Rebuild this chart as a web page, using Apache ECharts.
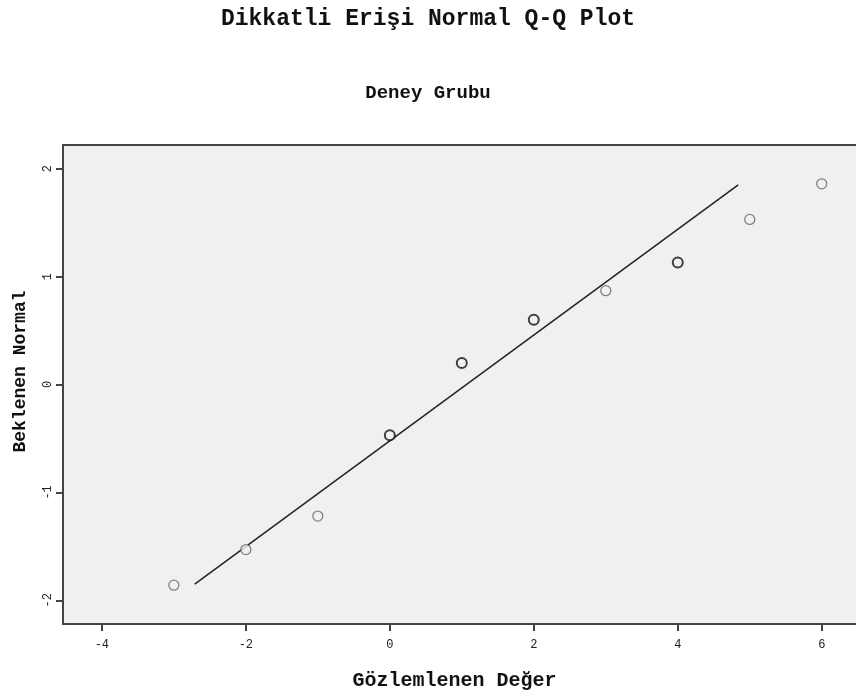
<!DOCTYPE html>
<html>
<head>
<meta charset="utf-8">
<script src="https://cdn.jsdelivr.net/npm/echarts@6/dist/echarts.min.js"></script>
<style>
html,body{margin:0;padding:0;background:#fff;}
#c{width:856px;height:696px;}
</style>
</head>
<body>
<div id="c"></div>
<script>
var titleText = "Dikkatli Erişi Normal Q-Q Plot";
var subtitleText = "Deney Grubu";
var xName = "Gözlemlenen Değer";
var yName = "Beklenen Normal";

var observed = [-3, -2, -1, 0, 1, 2, 3, 4, 5, 6];
var expected = [-1.86, -1.53, -1.22, -0.47, 0.20, 0.60, 0.87, 1.13, 1.53, 1.86];
var ties = [1, 1, 1, 2, 2, 2, 1, 2, 1, 1];

var lineX = [-2.71, 4.84];
var lineY = [-1.85, 1.85];

var xTicks = [-4, -2, 0, 2, 4, 6];
var yTicks = [-2, -1, 0, 1, 2];

var pts = observed.map(function (x, i) {
  var multi = ties[i] > 1;
  return {
    value: [x, expected[i]],
    itemStyle: { color: '#f0f0f0', borderColor: multi ? '#111' : '#666', borderWidth: multi ? 2 : 1.3 }
  };
});
var lineData = lineX.map(function (x, i) { return [x, lineY[i]]; });

var mono = '"Liberation Mono", "DejaVu Sans Mono", monospace';
var chart = echarts.init(document.getElementById('c'), null, { renderer: 'canvas' });
chart.setOption({
  animation: false,
  backgroundColor: '#fff',
  title: [
    { text: titleText, left: 'center', top: 3, textStyle: { fontFamily: mono, fontWeight: 'bold', fontSize: 23, color: '#111' } },
    { text: subtitleText, left: 'center', top: 79, textStyle: { fontFamily: mono, fontWeight: 'bold', fontSize: 19, color: '#111' } }
  ],
  grid: { left: 63, top: 145, bottom: 72, right: -10, outerBoundsMode: 'none', containLabel: false, show: true, backgroundColor: '#f0f0f0', borderColor: '#444', borderWidth: 2 },
  xAxis: {
    type: 'value', min: -4.54, max: 6.615,
    name: xName, nameLocation: 'middle', nameGap: 47,
    nameTextStyle: { fontFamily: mono, fontWeight: 'bold', fontSize: 20, color: '#111', padding: [0, 20, 0, 0] },
    axisLine: { show: true, onZero: false, lineStyle: { color: '#444', width: 2 } },
    axisTick: { show: true, length: 7, customValues: xTicks, lineStyle: { color: '#444', width: 2 } },
    axisLabel: { customValues: xTicks, fontFamily: mono, fontSize: 12, color: '#222', margin: 15 },
    splitLine: { show: false }
  },
  yAxis: {
    type: 'value', min: -2.22, max: 2.22,
    name: yName, nameLocation: 'middle', nameGap: 34, nameRotate: 90,
    nameTextStyle: { fontFamily: mono, fontWeight: 'bold', fontSize: 18, color: '#111', padding: [0, 0, 0, 26] },
    axisLine: { show: true, onZero: false, lineStyle: { color: '#444', width: 2 } },
    axisTick: { show: true, length: 7, customValues: yTicks, lineStyle: { color: '#444', width: 2 } },
    axisLabel: { customValues: yTicks, fontFamily: mono, fontSize: 12, color: '#222', margin: 9, rotate: 90 },
    splitLine: { show: false }
  },
  series: [
    { type: 'line', data: lineData, symbol: 'none', lineStyle: { color: '#222', width: 1.5 }, silent: true, z: 2 },
    { type: 'scatter', data: pts, symbol: 'circle', symbolSize: 10, z: 3 }
  ]
});
</script>
</body>
</html>
